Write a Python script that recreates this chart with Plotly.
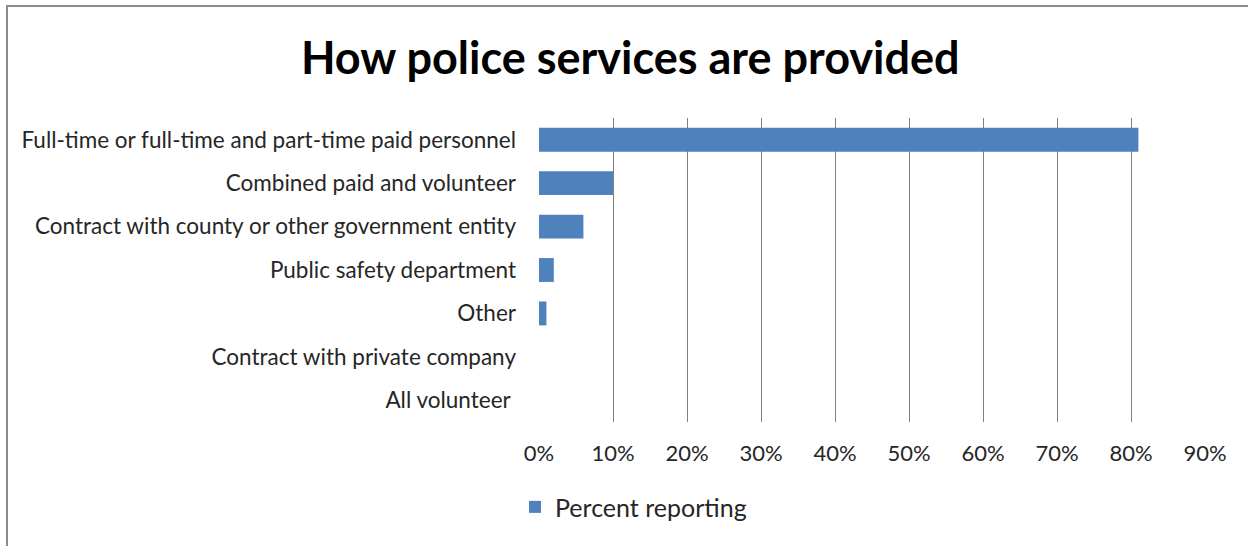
import plotly.graph_objects as go

# Survey results: how police services are provided
categories = [
    "Full-time or full-time and part-time paid personnel",
    "Combined paid and volunteer",
    "Contract with county or other government entity",
    "Public safety department",
    "Other",
    "Contract with private company",
    "All volunteer\u00a0",
]
percent_reporting = [81, 10, 6, 2, 1, 0, 0]
x_ticks = [0, 10, 20, 30, 40, 50, 60, 70, 80, 90]
x_tick_labels = [f"{v}%" for v in x_ticks]

FONT = "Lato"
TEXT = "#262626"
GRID = "#808080"

fig = go.Figure()
fig.add_trace(go.Bar(
    x=percent_reporting,
    y=categories,
    orientation="h",
    name="Percent reporting",
    marker=dict(color="#4F81BD", line=dict(width=0)),
    width=0.55,
))

fig.update_layout(
    width=1248,
    height=546,
    margin=dict(l=539, r=43, t=118, b=124),
    paper_bgcolor="white",
    plot_bgcolor="white",
    font=dict(family=FONT, size=22, color=TEXT),
    title=dict(
        text="<b>How police services are provided</b>",
        font=dict(family=FONT, size=45, color="#000000"),
        x=0.505, xanchor="center",
        y=1 - 58 / 546, yanchor="middle", yref="container",
    ),
    xaxis=dict(
        range=[0, 90],
        tickvals=x_ticks,
        ticktext=x_tick_labels,
        showgrid=True,
        gridcolor=GRID,
        gridwidth=1,
        zeroline=False,
        showline=False,
        ticks="",
        ticklabelstandoff=16,
        tickfont=dict(size=22, color=TEXT),
        fixedrange=True,
    ),
    yaxis=dict(
        categoryorder="array",
        categoryarray=categories[::-1],
        showgrid=False,
        zeroline=False,
        showline=False,
        ticks="",
        ticklabelstandoff=22,
        tickfont=dict(size=22.5, color=TEXT),
        fixedrange=True,
    ),
    showlegend=True,
    legend=dict(
        orientation="h",
        x=-0.036, xanchor="left",
        y=-0.28, yanchor="middle",
        font=dict(size=25, color=TEXT),
        bgcolor="rgba(0,0,0,0)",
    ),
    shapes=[
        dict(
            type="rect", xref="paper", yref="paper",
            x0=(7 - 539) / 666, x1=1.2,
            y0=-0.6, y1=(422 - 6) / 304,
            line=dict(color="#8C8C8C", width=2),
            fillcolor="rgba(0,0,0,0)",
            layer="below",
        )
    ],
)

fig.write_html("out.html")
